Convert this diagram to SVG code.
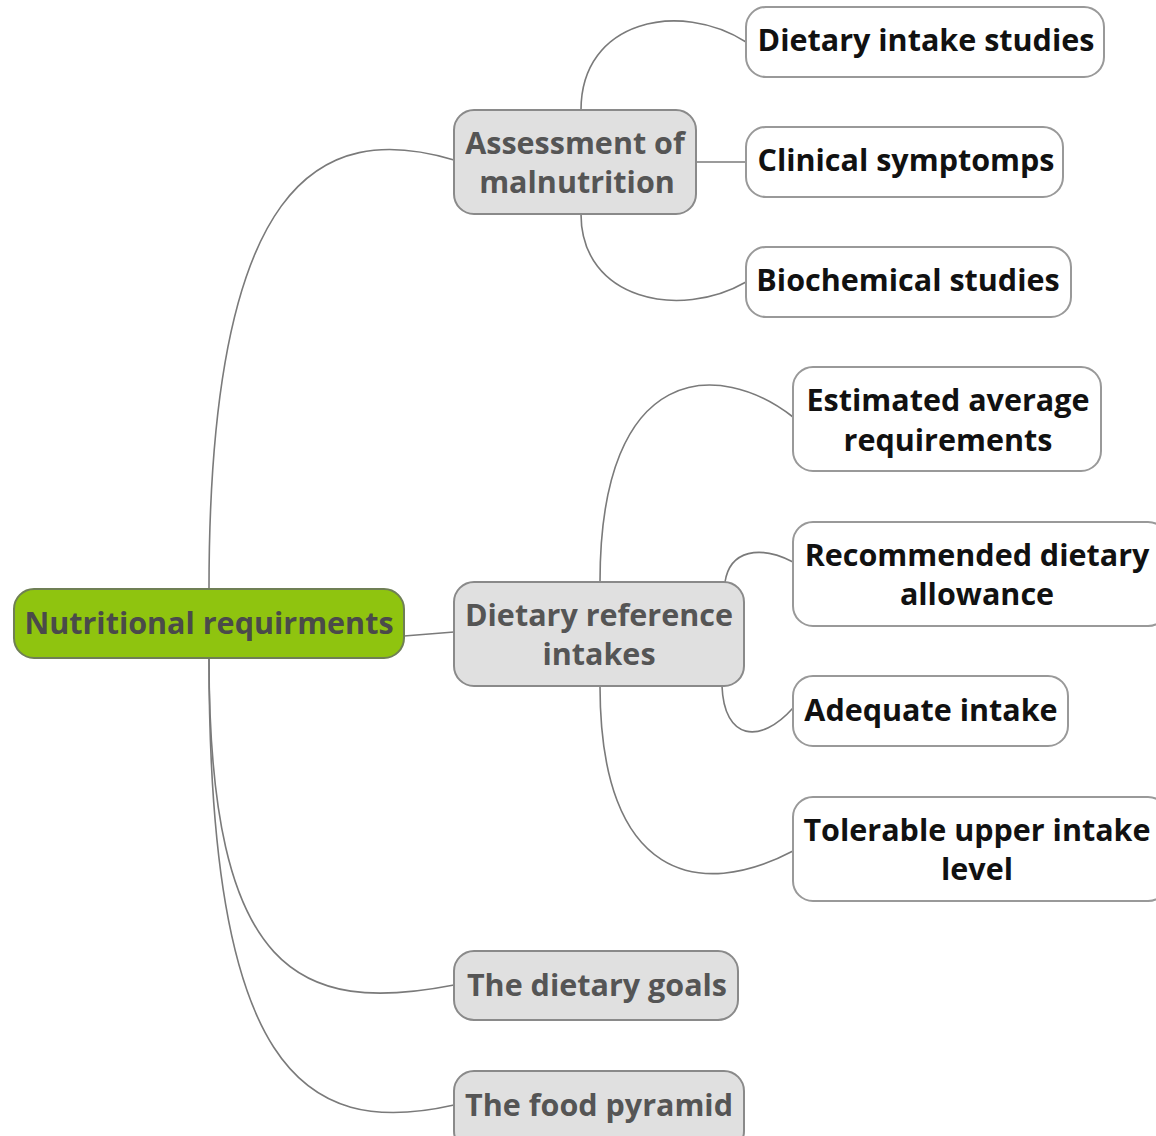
<svg xmlns="http://www.w3.org/2000/svg" width="1156" height="1136" viewBox="0 0 1156 1136">
<style>
.t{font-family:"Open Sans","Noto Sans","DejaVu Sans",sans-serif;font-weight:bold;font-size:30.5px;text-anchor:middle}
.root rect{fill:#8fc40f;stroke:#6f7f55;stroke-width:2}
.root text{fill:#4a4a4a}
.mid rect{fill:#e0e0e0;stroke:#8a8a8a;stroke-width:2}
.mid text{fill:#555555}
.leaf rect{fill:#ffffff;stroke:#999999;stroke-width:2}
.leaf text{fill:#111111}
#connectors path{fill:none;stroke:#7a7a7a;stroke-width:1.6}
</style>
<rect width="1156" height="1136" fill="#ffffff"/>
<g id="connectors">
<path d="M209,589 C209,180 320,120 454,160"/>
<path d="M404,636 L454,632"/>
<path d="M209,658 C209,975 300,1015 454,985"/>
<path d="M209,658 C209,1065 300,1140 454,1105"/>
<path d="M581,110 C581,20 680,0 746,42"/>
<path d="M696,162 L746,162"/>
<path d="M581,214 C581,300 680,320 746,282"/>
<path d="M600,582 C600,360 720,360 793,417"/>
<path d="M725,582 C730,550 760,545 793,562"/>
<path d="M722,686 C724,740 760,745 793,708"/>
<path d="M600,686 C600,880 700,900 793,851"/>
</g>
<g id="root" class="root"><rect x="14" y="589" width="390" height="69" rx="20"/><text class="t" x="209" y="634">Nutritional requirments</text></g>
<g id="assessment" class="mid"><rect x="454" y="110" width="242" height="104" rx="20"/><text class="t" x="575" y="154">Assessment of</text><text class="t" x="577" y="193">malnutrition</text></g>
<g id="dietary-intake" class="leaf"><rect x="746" y="7" width="358" height="70" rx="20"/><text class="t" x="926" y="51">Dietary intake studies</text></g>
<g id="clinical" class="leaf"><rect x="746" y="127" width="317" height="70" rx="20"/><text class="t" x="906" y="171">Clinical symptomps</text></g>
<g id="biochemical" class="leaf"><rect x="746" y="247" width="325" height="70" rx="20"/><text class="t" x="908" y="291">Biochemical studies</text></g>
<g id="dri" class="mid"><rect x="454" y="582" width="290" height="104" rx="20"/><text class="t" x="599" y="626">Dietary reference</text><text class="t" x="599" y="665">intakes</text></g>
<g id="ear" class="leaf"><rect x="793" y="367" width="308" height="104" rx="20"/><text class="t" x="948" y="411">Estimated average</text><text class="t" x="948" y="451">requirements</text></g>
<g id="rda" class="leaf"><rect x="793" y="522" width="375" height="104" rx="20"/><text class="t" x="977" y="566">Recommended dietary</text><text class="t" x="977" y="605">allowance</text></g>
<g id="ai" class="leaf"><rect x="793" y="676" width="275" height="70" rx="20"/><text class="t" x="931" y="721">Adequate intake</text></g>
<g id="ul" class="leaf"><rect x="793" y="797" width="375" height="104" rx="20"/><text class="t" x="977" y="841">Tolerable upper intake</text><text class="t" x="977" y="880">level</text></g>
<g id="goals" class="mid"><rect x="454" y="951" width="284" height="69" rx="20"/><text class="t" x="597" y="996">The dietary goals</text></g>
<g id="pyramid" class="mid"><rect x="454" y="1071" width="290" height="80" rx="20"/><text class="t" x="599" y="1116">The food pyramid</text></g>
</svg>
